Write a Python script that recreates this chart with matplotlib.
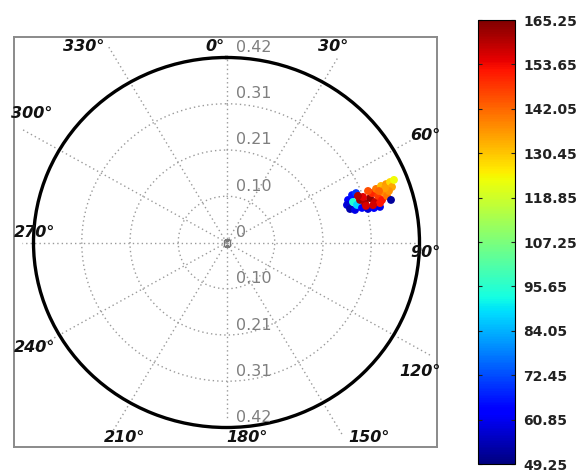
import numpy as np
import matplotlib
matplotlib.use("Agg")
import matplotlib.pyplot as plt
from matplotlib.transforms import offset_copy
from matplotlib.cm import ScalarMappable
from matplotlib.colors import Normalize

# ---------------- data ----------------
theta_deg = [69.95, 72.0, 74.2, 68.5, 68.3, 75.2, 71.5, 73.3, 75.1, 76.1, 76.3, 76.4,
             71.6, 73.4, 72.1, 74.1, 70.8, 70.5, 72.2, 74.1, 69.2, 69.5, 71.4, 73.2,
             69.1, 69.1, 68.9, 70.7, 71.7, 68.7, 74.9, 74.7, 75.0, 69.7, 75.1, 70.3, 70.6]
radius = [0.2815, 0.2757, 0.2794, 0.2936, 0.3034, 0.2893, 0.2902, 0.2965, 0.3051, 0.3172, 0.3304, 0.3436,
          0.3061, 0.3145, 0.3282, 0.3360, 0.3145, 0.3360, 0.3462, 0.3519, 0.3294, 0.3473, 0.3594, 0.3649,
          0.3598, 0.3716, 0.3814, 0.3816, 0.3724, 0.3911, 0.3708, 0.3147, 0.3458, 0.3050, 0.3300, 0.3664, 0.3519]
values = [62, 58, 54, 66, 70, 60, 95, 88, 62, 58, 64, 60,
          162, 160, 163, 158, 155, 150, 148, 152, 145, 140, 138, 140,
          132, 136, 128, 134, 137, 124, 52, 156, 152, 160, 157, 135, 142]

r_max = 0.42
r_grid = [0.105, 0.21, 0.315]
r_labels_top = ["0.42", "0.31", "0.21", "0.10", "0"]
r_labels_top_pos = [0.42, 0.315, 0.21, 0.105, 0.0]
r_labels_bot = ["0.10", "0.21", "0.31", "0.42"]
r_labels_bot_pos = [0.105, 0.21, 0.315, 0.42]
angle_ticks = [0, 30, 60, 90, 120, 150, 180, 210, 240, 270, 300, 330]
angle_labels = [f"{a}°" for a in angle_ticks]
cbar_min, cbar_max = 49.25, 165.25
cbar_ticks = [49.25, 60.85, 72.45, 84.05, 95.65, 107.25, 118.85, 130.45, 142.05, 153.65, 165.25]

# ---------------- layout ----------------
W, H = 583, 471
fig = plt.figure(figsize=(W / 100, H / 100), dpi=100)

# outer box
box = fig.add_axes([14 / W, 24 / H, 423 / W, 410 / H])
box.set_xticks([]); box.set_yticks([])
for s in box.spines.values():
    s.set_color("#8a8a8a"); s.set_linewidth(1.4)
box.set_zorder(0)

ax = fig.add_axes([33.5 / W, (H - 427.5) / H, 386 / W, 370 / H], projection="polar")
ax.set_zorder(1)
ax.patch.set_alpha(0)
ax.set_aspect("auto")
ax.set_theta_zero_location("N")
ax.set_theta_direction(-1)
ax.set_rlim(0, r_max)
ax.grid(False)
ax.set_xticks([]); ax.set_yticks([])
ax.spines["polar"].set_color("black")
ax.spines["polar"].set_linewidth(2.4)

grid_kw = dict(color="#9a9a9a", linestyle=(0, (1, 2.2)), linewidth=1.0)
tt = np.linspace(0, 2 * np.pi, 400)
for rg in r_grid:
    ax.plot(tt, np.full_like(tt, rg), **grid_kw)

spoke_len = [1.0, 1.15, 1.12, 1.0, 1.22, 1.2, 0.95, 1.2, 1.15, 1.06, 1.22, 1.22]
for a, L in zip(angle_ticks, spoke_len):
    th = np.deg2rad(a)
    ax.plot([th, th], [0, L * r_max], clip_on=False, **grid_kw)

ax.plot([0], [0], marker="s", ms=5, mfc="none", mec="#7a7a7a", mew=1.0)

# scatter
sc = ax.scatter(np.deg2rad(theta_deg), radius, c=values, cmap="jet",
                vmin=cbar_min, vmax=cbar_max, s=32, marker="o", linewidths=0, zorder=5)

# radial labels
tr = offset_copy(ax.transData, fig=fig, x=9, y=10, units="dots")
for lab, rp in zip(r_labels_top, r_labels_top_pos):
    ax.text(0, rp, lab, transform=tr, ha="left", va="center", fontsize=11.5, color="#7f7f7f")
for lab, rp in zip(r_labels_bot, r_labels_bot_pos):
    ax.text(np.pi, rp, lab, transform=tr, ha="left", va="center", fontsize=11.5, color="#7f7f7f")

# angle labels (positions in axes fraction of the polar axes)
label_xy = [(0.4702, 1.0284), (0.7759, 1.0284), (1.0142, 0.7905), (1.0142, 0.4743),
            (1.0013, 0.150), (0.8692, -0.0257), (0.5531, -0.0257), (0.2370, -0.0257),
            (0.0039, 0.2149), (0.0039, 0.5257), (-0.0039, 0.8500), (0.1308, 1.0284)]
for lab, (fx, fy) in zip(angle_labels, label_xy):
    ax.text(fx, fy, lab, transform=ax.transAxes, ha="center", va="center",
            fontsize=11.5, fontweight="bold", fontstyle="italic", color="#111111")

# colorbar
cax = fig.add_axes([478 / W, (H - 464) / H, 37 / W, 444 / H])
sm = ScalarMappable(norm=Normalize(cbar_min, cbar_max), cmap="jet")
cb = fig.colorbar(sm, cax=cax, ticks=cbar_ticks)
cb.ax.set_yticklabels([f"{t:.2f}" for t in cbar_ticks])
cb.outline.set_linewidth(0.8)
cb.ax.tick_params(direction="in", length=3, width=0.8, left=True, right=True,
                  labelsize=10, pad=6, colors="#222222")
for t in cb.ax.get_yticklabels():
    t.set_fontweight("bold")
    t.set_color("#222222")

fig.savefig("out.png", dpi=100)
